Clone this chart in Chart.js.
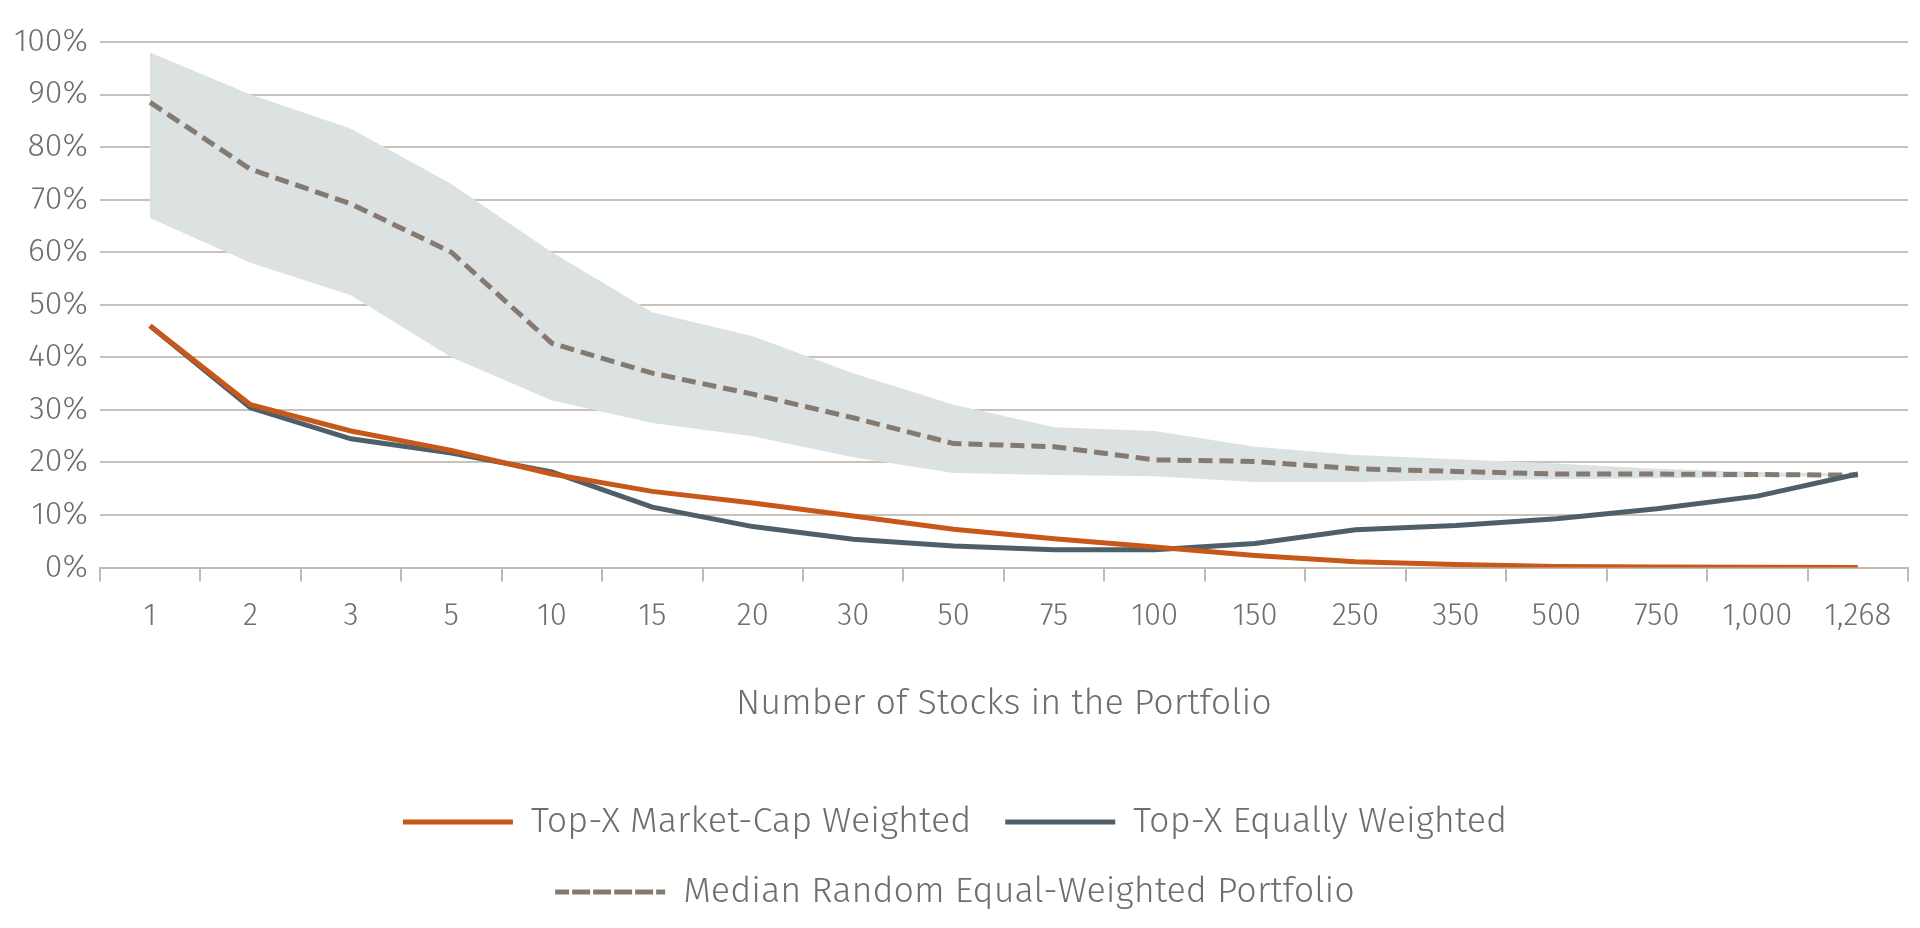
<!DOCTYPE html>
<html>
<head>
<meta charset="utf-8">
<script src="https://cdn.jsdelivr.net/npm/chart.js@4"></script>
<style>
  html, body { margin: 0; padding: 0; background: #fff; }
  #wrap { width: 1920px; height: 928px; }
</style>
</head>
<body>
<div id="wrap"><canvas id="c"></canvas></div>
<script>
const categories = ['1', '2', '3', '5', '10', '15', '20', '30', '50', '75', '100', '150', '250', '350', '500', '750', '1,000', '1,268'];
const marketCap = [46, 31, 26, 22.3, 17.8, 14.5, 12.3, 9.8, 7.3, 5.5, 3.9, 2.3, 1.1, 0.6, 0.2, 0.1, 0.05, 0];
const equalWeighted = [46, 30.4, 24.5, 21.8, 18.2, 11.5, 7.8, 5.4, 4.1, 3.4, 3.4, 4.6, 7.2, 8.0, 9.3, 11.2, 13.6, 17.8];
const medianRandom = [88.5, 75.8, 69.2, 60, 42.7, 37, 33, 28.5, 23.6, 23, 20.5, 20.2, 18.8, 18.3, 17.8, 17.8, 17.7, 17.6];
const bandUpper = [98, 90, 83.5, 73, 60, 48.6, 44, 37, 31, 26.7, 26, 23, 21.4, 20.6, 19.8, 18.8, 18.2, 17.8];
const bandLower = [66.5, 58, 51.8, 40, 31.8, 27.5, 25, 21, 18, 17.6, 17.4, 16.3, 16.3, 16.6, 16.8, 17, 17.2, 17.5];

const font = "'Fira Sans', Lato, 'Open Sans', sans-serif";
const grey = '#6e6e6e';

new Chart(document.getElementById('c'), {
  type: 'line',
  data: {
    labels: categories,
    datasets: [
      { label: 'Top-X Market-Cap Weighted', data: marketCap, borderColor: '#c8581a', backgroundColor: '#c8581a', borderWidth: 5, pointRadius: 0, tension: 0, order: 1 },
      { label: 'Top-X Equally Weighted', data: equalWeighted, borderColor: '#4f5f69', backgroundColor: '#4f5f69', borderWidth: 5, pointRadius: 0, tension: 0, order: 2 },
      { label: 'Median Random Equal-Weighted Portfolio', data: medianRandom, borderColor: '#847a70', backgroundColor: '#847a70', borderWidth: 5, borderDash: [14, 7], pointRadius: 0, tension: 0, order: 3 },
      { label: 'upper', data: bandUpper, borderColor: 'rgba(0,0,0,0)', borderWidth: 0, pointRadius: 0, backgroundColor: '#dce1e1', fill: '+1', tension: 0, order: 4 },
      { label: 'lower', data: bandLower, borderColor: 'rgba(0,0,0,0)', borderWidth: 0, pointRadius: 0, fill: false, tension: 0, order: 5 }
    ]
  },
  options: {
    responsive: true,
    maintainAspectRatio: false,
    animation: false,
    layout: { padding: { top: 42, right: 12, left: 2, bottom: 8 } },
    plugins: {
      tooltip: { enabled: false },
      legend: {
        position: 'bottom',
        labels: {
          filter: (item) => item.datasetIndex < 3,
          boxWidth: 110,
          boxHeight: 0,
          padding: 34,
          color: grey,
          font: { family: font, size: 36, weight: '300' }
        }
      }
    },
    scales: {
      x: {
        offset: true,
        grid: { display: true, drawOnChartArea: false, drawTicks: true, tickLength: 14, offset: true, color: '#c2bbb1', lineWidth: 2 },
        border: { display: true, color: '#c2bbb1', width: 2 },
        ticks: { color: grey, padding: 16, font: { family: font, size: 31, weight: '300' }, maxRotation: 0 },
        title: { display: true, text: 'Number of Stocks in the Portfolio', color: grey, padding: { top: 32, bottom: 44 }, font: { family: font, size: 36, weight: '300' } }
      },
      y: {
        min: 0,
        max: 100,
        grid: { color: '#c9c2b8', lineWidth: 2, drawTicks: false },
        border: { display: false },
        ticks: { stepSize: 10, color: grey, padding: 12, callback: (v) => v + '%', font: { family: font, size: 32, weight: '300' } }
      }
    }
  }
});
</script>
</body>
</html>
